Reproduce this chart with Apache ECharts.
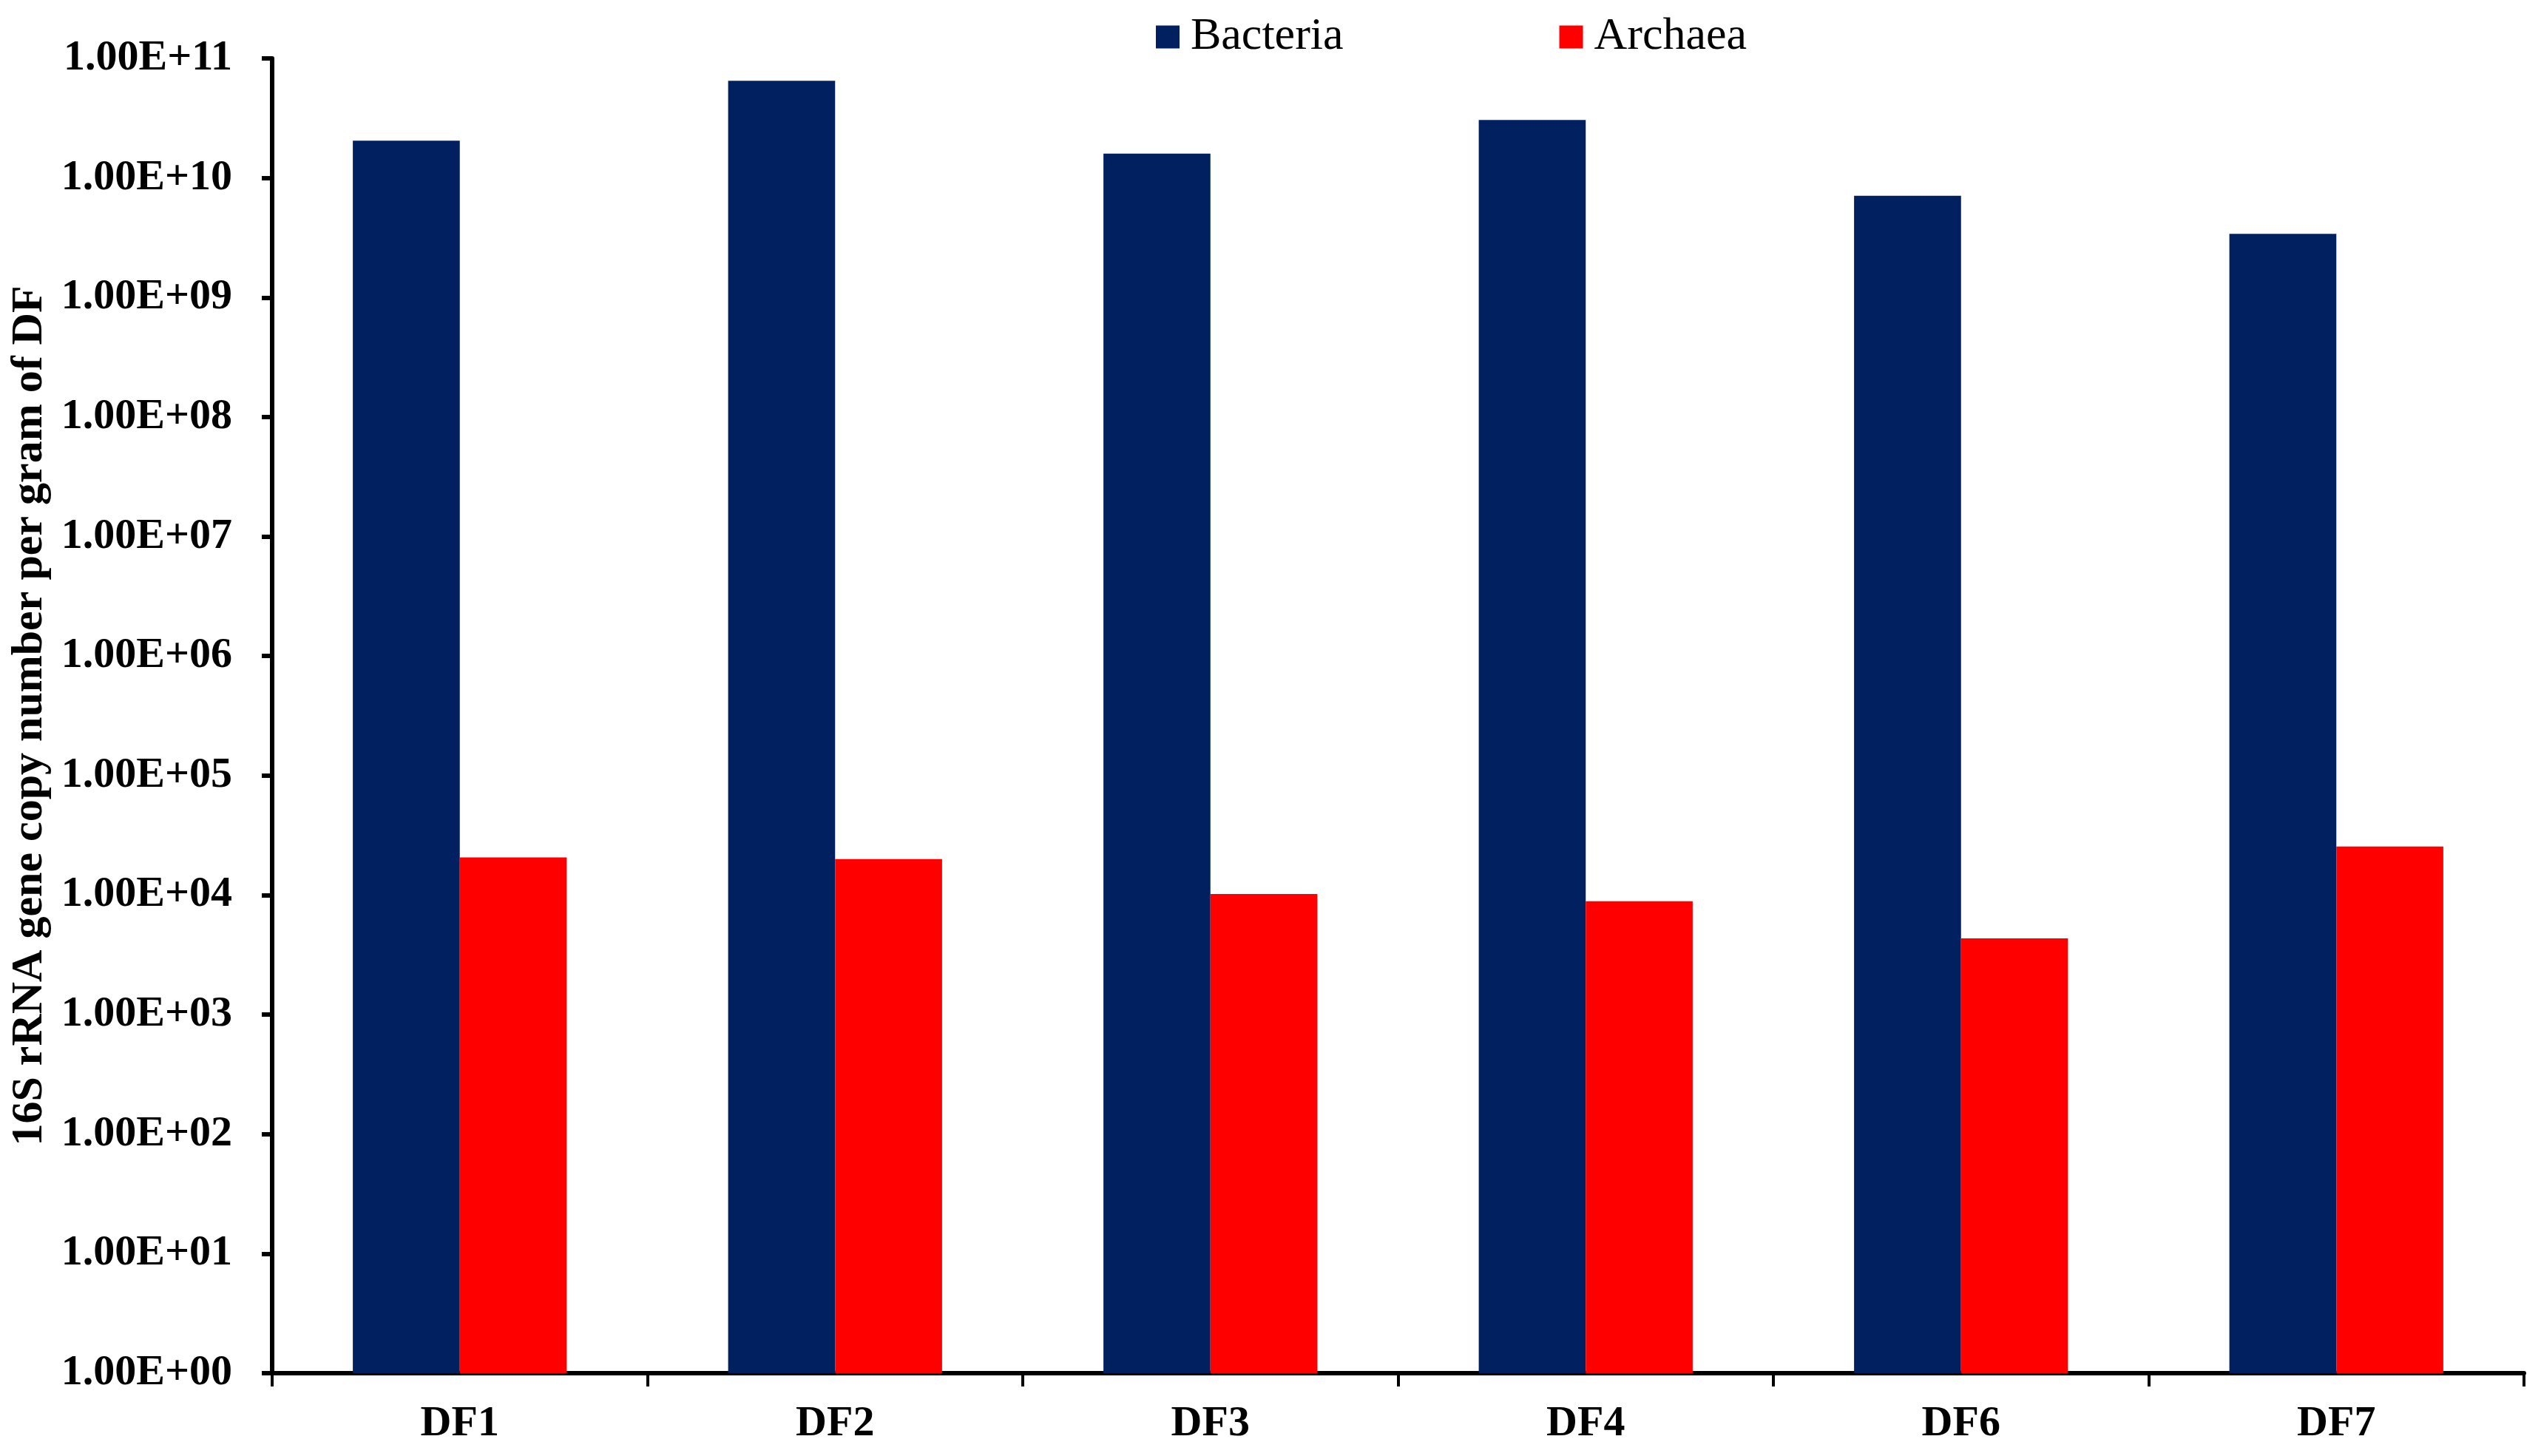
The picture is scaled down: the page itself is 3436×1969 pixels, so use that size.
<!DOCTYPE html>
<html>
<head>
<meta charset="utf-8">
<script src="https://cdn.jsdelivr.net/npm/echarts@6/dist/echarts.min.js"></script>
<style>html,body{margin:0;padding:0;background:#fff;}#c{width:3436px;height:1969px;}</style>
</head>
<body>
<div id="c"></div>
<script>
const categories = ['DF1', 'DF2', 'DF3', 'DF4', 'DF6', 'DF7'];
const bacteria = [2.05e10, 6.5e10, 1.6e10, 3.05e10, 7.1e9, 3.4e9];
const archaea = [2.07e4, 2.0e4, 1.02e4, 8.9e3, 4.35e3, 2.55e4];
const yTickLabels = ['1.00E+00', '1.00E+01', '1.00E+02', '1.00E+03', '1.00E+04', '1.00E+05',
  '1.00E+06', '1.00E+07', '1.00E+08', '1.00E+09', '1.00E+10', '1.00E+11'];
const seriesNames = ['Bacteria', 'Archaea'];
const yName = '16S rRNA gene copy number per gram of DF';

const font = '"Liberation Serif", "Times New Roman", serif';
const chart = echarts.init(document.getElementById('c'));
chart.setOption({
  backgroundColor: '#ffffff',
  animation: false,
  color: ['#002060', '#FF0000'],
  legend: {
    data: seriesNames,
    left: 1558,
    top: 14,
    itemWidth: 32,
    itemHeight: 31,
    itemGap: 292,
    icon: 'rect',
    textStyle: { fontFamily: font, fontSize: 62, color: '#000', padding: [0, 0, 0, 10] }
  },
  grid: { left: 368, right: 23, top: 79, bottom: 112, containLabel: false },
  xAxis: {
    type: 'category',
    data: categories,
    axisLine: { lineStyle: { color: '#000', width: 6 } },
    axisTick: { show: true, alignWithLabel: false, interval: 0, length: 18, lineStyle: { color: '#000', width: 4 } },
    axisLabel: { fontFamily: font, fontWeight: 'bold', fontSize: 58, color: '#000', margin: 40 },
    splitLine: { show: false }
  },
  yAxis: {
    type: 'log',
    logBase: 10,
    min: 1,
    max: 1e11,
    interval: 1,
    name: yName,
    nameLocation: 'middle',
    nameRotate: 90,
    nameGap: 298,
    nameTextStyle: { fontFamily: font, fontWeight: 'bold', fontSize: 60, color: '#000' },
    axisLine: { show: true, lineStyle: { color: '#000', width: 6 } },
    axisTick: { show: true, length: 14, lineStyle: { color: '#000', width: 6 } },
    axisLabel: {
      fontFamily: font, fontWeight: 'bold', fontSize: 58, color: '#000', margin: 54,
      formatter: function (v) { return yTickLabels[Math.round(Math.log10(v))]; }
    },
    splitLine: { show: false },
    minorTick: { show: false }
  },
  series: [
    { name: seriesNames[0], type: 'bar', data: bacteria, barGap: '0%', barCategoryGap: '43%' },
    { name: seriesNames[1], type: 'bar', data: archaea, barGap: '0%', barCategoryGap: '43%' }
  ]
});
</script>
</body>
</html>
